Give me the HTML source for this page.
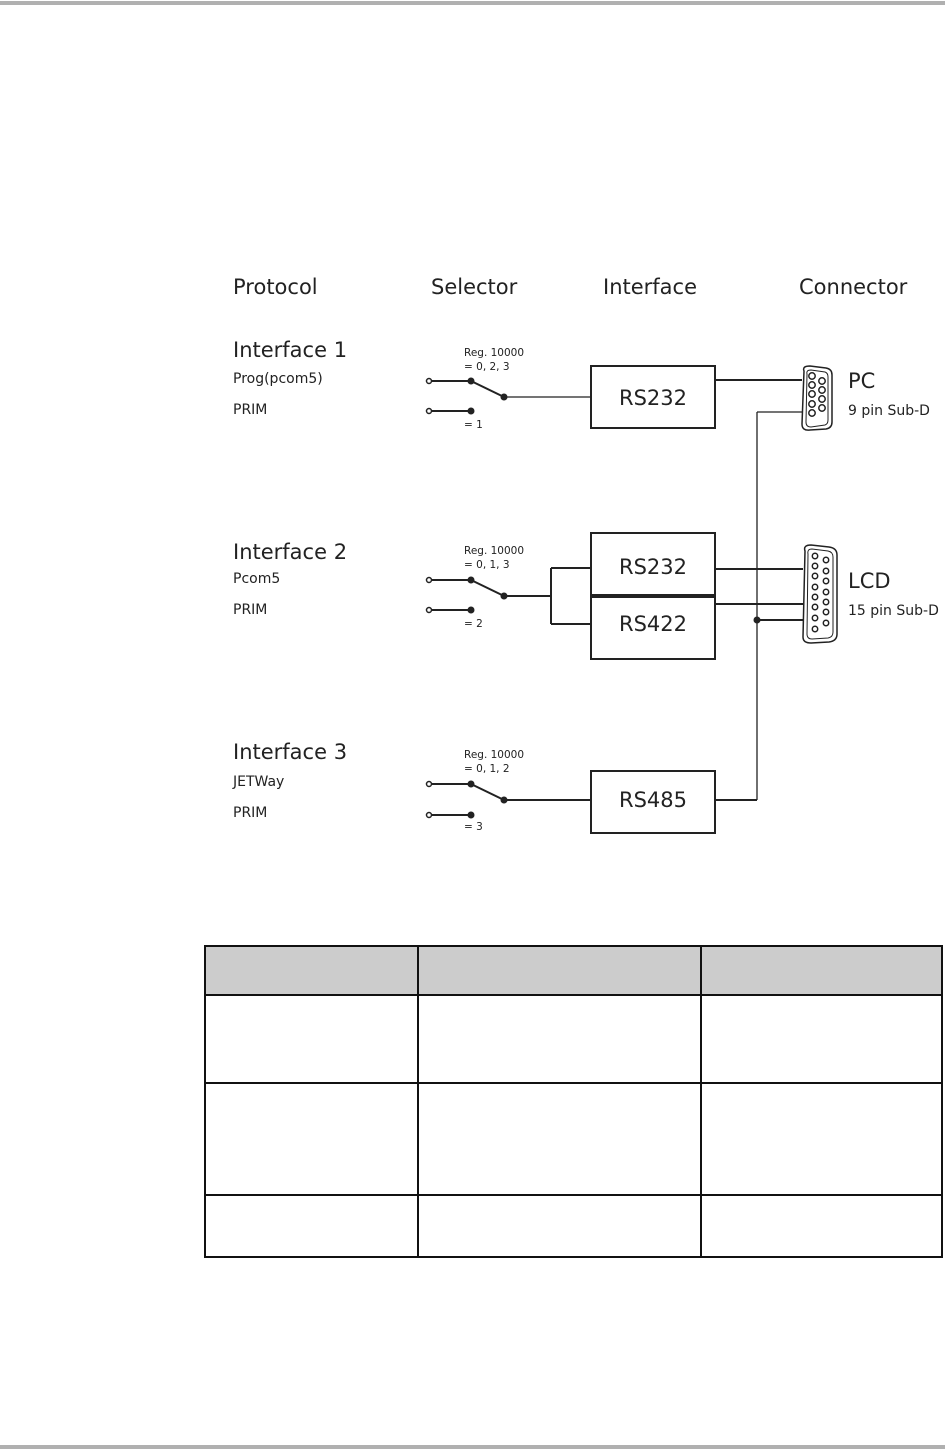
<!DOCTYPE html>
<html><head><meta charset="utf-8"><style>
html,body{margin:0;padding:0;background:#fff;}
body{width:945px;height:1452px;position:relative;overflow:hidden;font-family:"DejaVu Sans","Liberation Sans",sans-serif;}
.t{position:absolute;white-space:nowrap;color:#222;}
</style></head><body>
<div style="position:absolute;left:0;top:1px;width:945px;height:4px;background:#b0b0b0"></div>
<div style="position:absolute;left:0;top:1445px;width:945px;height:4px;background:#b0b0b0"></div>

<svg width="945" height="1452" style="position:absolute;left:0;top:0" xmlns="http://www.w3.org/2000/svg">
<g stroke="#222" fill="none" stroke-width="2">
<line x1="431" y1="381" x2="471" y2="381"/><line x1="471" y1="381" x2="504" y2="397"/>
<line x1="431" y1="411" x2="471" y2="411"/>
<line x1="504" y1="397" x2="590" y2="397" stroke-width="1.3"/>
<rect x="591" y="366" width="124" height="62"/>
<line x1="715" y1="380" x2="802" y2="380"/>
<line x1="757" y1="412" x2="802" y2="412" stroke-width="1.3"/>
<line x1="757" y1="412" x2="757" y2="800" stroke-width="1.3"/>
<line x1="431" y1="580" x2="471" y2="580"/><line x1="471" y1="580" x2="504" y2="596"/>
<line x1="431" y1="610" x2="471" y2="610"/>
<line x1="504" y1="596" x2="551" y2="596"/>
<line x1="551" y1="568" x2="551" y2="624"/>
<line x1="551" y1="568" x2="591" y2="568"/><line x1="551" y1="624" x2="591" y2="624"/>
<rect x="591" y="533" width="124" height="62"/>
<rect x="591" y="597" width="124" height="62"/>
<line x1="715" y1="569" x2="803" y2="569"/>
<line x1="715" y1="604" x2="803" y2="604"/>
<line x1="757" y1="620" x2="803" y2="620"/>
<line x1="431" y1="784" x2="471" y2="784"/><line x1="471" y1="784" x2="504" y2="800"/>
<line x1="431" y1="815" x2="471" y2="815"/>
<line x1="504" y1="800" x2="591" y2="800"/>
<rect x="591" y="771" width="124" height="62"/>
<line x1="715" y1="800" x2="757" y2="800"/>
<path d="M804 371 Q802 366 810 366 L826 368 Q832 369 832 375 L832 422 Q832 428 826 429 L810 430 Q802 431 802 424 Z" stroke-width="1.5"/>
<path d="M807 374 Q806 370 811 370 L825 372 Q828 373 828 377 L828 420 Q828 424 825 425 L811 427 Q806 427 806 422 Z" stroke-width="1"/>
<path d="M805 551 Q803 545 811 545 L829 547 Q837 548 837 555 L837 634 Q837 641 829 642 L811 643 Q803 643 803 637 Z" stroke-width="1.5"/>
<path d="M808 554 Q807 549 812 549 L828 551 Q833 552 833 557 L833 632 Q833 637 828 638 L812 639 Q807 639 807 634 Z" stroke-width="1"/>
</g>
<g fill="#fff" stroke="#222" stroke-width="1.5">
<circle cx="429" cy="381" r="2.5"/><circle cx="429" cy="411" r="2.5"/>
<circle cx="429" cy="580" r="2.5"/><circle cx="429" cy="610" r="2.5"/>
<circle cx="429" cy="784" r="2.5"/><circle cx="429" cy="815" r="2.5"/>
<circle cx="812" cy="376" r="3.2"/><circle cx="812" cy="385" r="3.2"/><circle cx="812" cy="394" r="3.2"/><circle cx="812" cy="404" r="3.2"/><circle cx="812" cy="413" r="3.2"/>
<circle cx="822" cy="381" r="3.2"/><circle cx="822" cy="390" r="3.2"/><circle cx="822" cy="399" r="3.2"/><circle cx="822" cy="408" r="3.2"/>
<circle cx="815" cy="556" r="2.7"/><circle cx="815" cy="566" r="2.7"/><circle cx="815" cy="576" r="2.7"/><circle cx="815" cy="587" r="2.7"/><circle cx="815" cy="597" r="2.7"/><circle cx="815" cy="607" r="2.7"/><circle cx="815" cy="618" r="2.7"/><circle cx="815" cy="629" r="2.7"/>
<circle cx="826" cy="560" r="2.7"/><circle cx="826" cy="571" r="2.7"/><circle cx="826" cy="581" r="2.7"/><circle cx="826" cy="592" r="2.7"/><circle cx="826" cy="602" r="2.7"/><circle cx="826" cy="612" r="2.7"/><circle cx="826" cy="623" r="2.7"/>
</g>
<g fill="#222">
<circle cx="471" cy="381" r="3.5"/><circle cx="504" cy="397" r="3.5"/><circle cx="471" cy="411" r="3.5"/>
<circle cx="471" cy="580" r="3.5"/><circle cx="504" cy="596" r="3.5"/><circle cx="471" cy="610" r="3.5"/>
<circle cx="471" cy="784" r="3.5"/><circle cx="504" cy="800" r="3.5"/><circle cx="471" cy="815" r="3.5"/>
<circle cx="757" cy="620" r="3.5"/>
</g>
</svg>

<div class="t" style="left:233px;top:275px;font-size:21px">Protocol</div>
<div class="t" style="left:431px;top:275px;font-size:21px">Selector</div>
<div class="t" style="left:603px;top:275px;font-size:21px">Interface</div>
<div class="t" style="left:799px;top:275px;font-size:21px">Connector</div>

<div class="t" style="left:233px;top:338px;font-size:21px">Interface 1</div>
<div class="t" style="left:233px;top:371px;font-size:14px">Prog(pcom5)</div>
<div class="t" style="left:233px;top:402px;font-size:14px">PRIM</div>
<div class="t" style="left:464px;top:347px;font-size:10.5px">Reg. 10000</div>
<div class="t" style="left:464px;top:361px;font-size:10.5px">= 0, 2, 3</div>
<div class="t" style="left:464px;top:419px;font-size:10.5px">= 1</div>

<div class="t" style="left:233px;top:540px;font-size:21px">Interface 2</div>
<div class="t" style="left:233px;top:571px;font-size:14px">Pcom5</div>
<div class="t" style="left:233px;top:602px;font-size:14px">PRIM</div>
<div class="t" style="left:464px;top:545px;font-size:10.5px">Reg. 10000</div>
<div class="t" style="left:464px;top:559px;font-size:10.5px">= 0, 1, 3</div>
<div class="t" style="left:464px;top:618px;font-size:10.5px">= 2</div>

<div class="t" style="left:233px;top:740px;font-size:21px">Interface 3</div>
<div class="t" style="left:233px;top:774px;font-size:14px">JETWay</div>
<div class="t" style="left:233px;top:805px;font-size:14px">PRIM</div>
<div class="t" style="left:464px;top:749px;font-size:10.5px">Reg. 10000</div>
<div class="t" style="left:464px;top:763px;font-size:10.5px">= 0, 1, 2</div>
<div class="t" style="left:464px;top:821px;font-size:10.5px">= 3</div>

<div class="t" style="left:591px;top:386px;width:124px;text-align:center;font-size:21px">RS232</div>
<div class="t" style="left:591px;top:555px;width:124px;text-align:center;font-size:21px">RS232</div>
<div class="t" style="left:591px;top:612px;width:124px;text-align:center;font-size:21px">RS422</div>
<div class="t" style="left:591px;top:788px;width:124px;text-align:center;font-size:21px">RS485</div>

<div class="t" style="left:848px;top:369px;font-size:21px">PC</div>
<div class="t" style="left:848px;top:403px;font-size:14px">9 pin Sub-D</div>
<div class="t" style="left:848px;top:569px;font-size:21px">LCD</div>
<div class="t" style="left:848px;top:603px;font-size:14px">15 pin Sub-D</div>

<table style="position:absolute;left:204px;top:945px;border-collapse:collapse;table-layout:fixed;width:737px;" cellspacing="0">
<colgroup><col style="width:213px"><col style="width:283px"><col style="width:241px"></colgroup>
<tr style="height:49px;background:#cccccc"><td style="border:2px solid #111"></td><td style="border:2px solid #111"></td><td style="border:2px solid #111"></td></tr>
<tr style="height:88px"><td style="border:2px solid #111"></td><td style="border:2px solid #111"></td><td style="border:2px solid #111"></td></tr>
<tr style="height:112px"><td style="border:2px solid #111"></td><td style="border:2px solid #111"></td><td style="border:2px solid #111"></td></tr>
<tr style="height:62px"><td style="border:2px solid #111"></td><td style="border:2px solid #111"></td><td style="border:2px solid #111"></td></tr>
</table>
</body></html>
